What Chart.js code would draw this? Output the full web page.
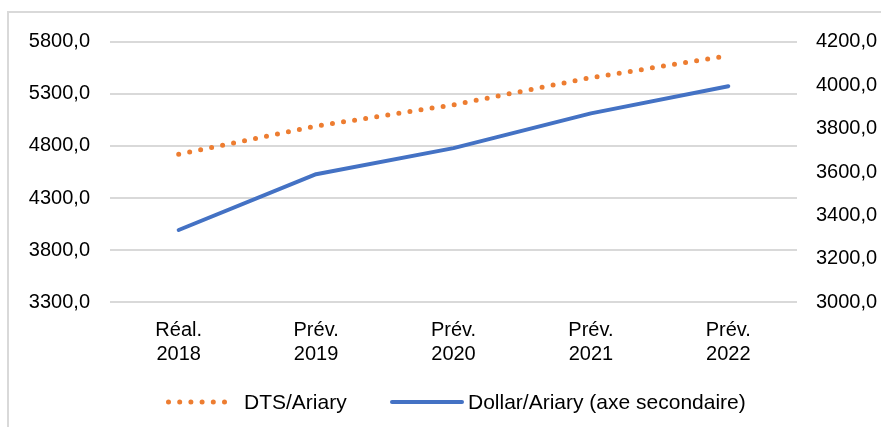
<!DOCTYPE html>
<html>
<head>
<meta charset="utf-8">
<title>DTS / Dollar Ariary</title>
<script src="https://cdn.jsdelivr.net/npm/chart.js@4"></script>
<style>
  html, body { margin: 0; padding: 0; background: #fff; }
  #wrap { width: 883px; height: 427px; position: relative; }
</style>
</head>
<body>
<div id="wrap"><canvas id="chart" width="883" height="427"></canvas></div>
<script>
const categories = [['Réal.', '2018'], ['Prév.', '2019'], ['Prév.', '2020'], ['Prév.', '2021'], ['Prév.', '2022']];
const dtsAriary = [4720, 4990, 5195, 5455, 5665];
const dollarAriary = [3333, 3590, 3710, 3870, 3995];

const leftTicks = { min: 3300, max: 5800, step: 500 };
const rightTicks = { min: 3000, max: 4200, step: 200 };

const FONT = '"Liberation Sans", Arial, sans-serif';
const fmt = v => v.toFixed(1).replace('.', ',');

// light frame round the chart (top and left edges only are visible)
const framePlugin = {
  id: 'frame',
  beforeDraw(chart) {
    const ctx = chart.ctx;
    ctx.save();
    ctx.strokeStyle = '#d9d9d9';
    ctx.lineWidth = 2;
    ctx.beginPath();
    ctx.moveTo(8, 430);
    ctx.lineTo(8, 12);
    ctx.lineTo(881, 12);
    ctx.stroke();
    ctx.restore();
  }
};

// legend drawn by hand to match the spacing of the original
const legendPlugin = {
  id: 'handLegend',
  afterDraw(chart) {
    const ctx = chart.ctx;
    const y = 402;
    const items = [
      { ds: chart.data.datasets[0], x0: 168.5, x1: 225, tx: 244 },
      { ds: chart.data.datasets[1], x0: 392, x1: 462, tx: 468 }
    ];
    ctx.save();
    items.forEach(it => {
      ctx.strokeStyle = it.ds.borderColor;
      ctx.lineWidth = it.ds.borderWidth;
      ctx.lineCap = it.ds.borderCapStyle || 'butt';
      ctx.setLineDash(it.ds.borderDash || []);
      ctx.beginPath();
      ctx.moveTo(it.x0, y);
      ctx.lineTo(it.x1, y);
      ctx.stroke();
      ctx.setLineDash([]);
      ctx.fillStyle = '#000';
      ctx.font = '21px ' + FONT;
      ctx.textBaseline = 'middle';
      ctx.textAlign = 'left';
      ctx.fillText(it.ds.label, it.tx, y + 1);
    });
    ctx.restore();
  }
};

new Chart(document.getElementById('chart'), {
  type: 'line',
  data: {
    labels: categories,
    datasets: [
      {
        label: 'DTS/Ariary',
        data: dtsAriary,
        yAxisID: 'y',
        borderColor: '#ED7D31',
        borderWidth: 5,
        borderDash: [0, 11.2],
        borderCapStyle: 'round',
        pointRadius: 0,
        tension: 0
      },
      {
        label: 'Dollar/Ariary (axe secondaire)',
        data: dollarAriary,
        yAxisID: 'y1',
        borderColor: '#4472C4',
        borderWidth: 4,
        borderCapStyle: 'round',
        borderJoinStyle: 'round',
        pointRadius: 0,
        tension: 0
      }
    ]
  },
  options: {
    responsive: false,
    animation: false,
    layout: { padding: { top: 41.7, left: 0, right: 0, bottom: 0 } },
    plugins: {
      legend: { display: false },
      tooltip: { enabled: false }
    },
    scales: {
      x: {
        offset: true,
        grid: { display: false },
        border: { display: false },
        ticks: {
          color: '#000',
          font: { family: FONT, size: 20, lineHeight: 1.2 },
          padding: 8,
          maxRotation: 0
        },
        afterFit(scale) { scale.height = 124.7; }
      },
      y: {
        position: 'left',
        min: leftTicks.min,
        max: leftTicks.max,
        grid: { color: '#d9d9d9', lineWidth: 2, drawTicks: false },
        border: { display: false },
        ticks: {
          stepSize: leftTicks.step,
          color: '#000',
          font: { family: FONT, size: 20 },
          padding: 20,
          callback: v => fmt(v)
        },
        afterFit(scale) { scale.width = 110; }
      },
      y1: {
        position: 'right',
        min: rightTicks.min,
        max: rightTicks.max,
        grid: { display: false, drawTicks: false },
        border: { display: false },
        ticks: {
          stepSize: rightTicks.step,
          color: '#000',
          font: { family: FONT, size: 20 },
          padding: 19,
          callback: v => fmt(v)
        },
        afterFit(scale) { scale.width = 86; }
      }
    }
  },
  plugins: [framePlugin, legendPlugin]
});
</script>
</body>
</html>
